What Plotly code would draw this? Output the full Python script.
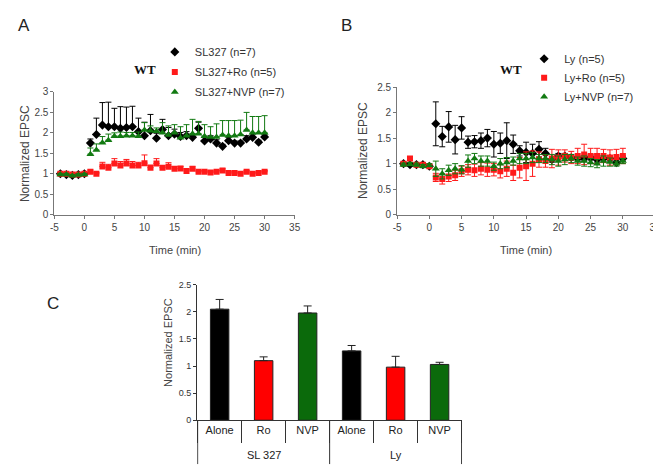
import plotly.graph_objects as go

# ---------------- data ----------------
time_min = list(range(-4, 31))
x_tick_vals = [-5, 0, 5, 10, 15, 20, 25, 30, 35]
x_tick_text = ["-5", "0", "5", "10", "15", "20", "25", "30", "35"]

# Panel A (SL327)
sl327 = [1.0, 0.98, 0.96, 0.98, 1.0, 1.75, 1.96, 2.19, 2.15, 2.15, 2.11, 2.13, 2.15, 2.03, 1.93, 2.05, 1.87, 2.08,
         1.93, 1.97, 1.91, 1.93, 1.89, 2.11, 1.8, 1.85, 1.75, 1.67, 1.81, 1.75, 1.75, 1.85, 1.89, 1.77, 1.9]
sl327_err = [0.03] * 5 + [0.1, 0.4, 0.55, 0.6, 0.45, 0.53, 0.5, 0.5, 0.33, 0.33, 0.4, 0.12, 0.25, 0.2, 0.12, 0.1, 0.1,
                          0.08, 0.15, 0.1, 0.08, 0.08, 0.05, 0.08, 0.05, 0.05, 0.08, 0.08, 0.05, 0.05]
sl327_ro = [1.0, 1.0, 0.98, 0.98, 1.0, 1.05, 1.0, 1.18, 1.15, 1.25, 1.2, 1.25, 1.2, 1.2, 1.26, 1.15, 1.25, 1.15,
            1.17, 1.12, 1.13, 1.07, 1.12, 1.05, 1.05, 1.03, 1.05, 1.08, 1.02, 1.02, 1.0, 1.05, 1.0, 1.02, 1.05]
sl327_ro_err = [0.03] * 5 + [0.04, 0.03, 0.1, 0.08, 0.12, 0.1, 0.1, 0.1, 0.08, 0.2, 0.06, 0.12, 0.05, 0.1, 0.05, 0.05,
                             0.03, 0.05, 0.03, 0.03, 0.03, 0.03, 0.04, 0.03, 0.03, 0.03, 0.03, 0.03, 0.03, 0.03]
sl327_nvp = [0.98, 0.98, 0.95, 0.97, 0.98, 1.48, 1.58, 1.76, 1.82, 1.92, 1.92, 1.93, 1.93, 1.92, 2.07, 2.05, 2.04, 2.0,
             1.95, 2.0, 1.88, 1.93, 1.98, 1.98, 1.92, 1.9, 1.9, 1.95, 1.93, 1.93, 1.96, 2.07, 2.0, 2.0, 2.0]
sl327_nvp_err = [0.03] * 5 + [0.15, 0.15, 0.15, 0.15, 0.08, 0.1, 0.08, 0.08, 0.1, 0.18, 0.12, 0.08, 0.25, 0.22, 0.2,
                              0.27, 0.27, 0.35, 0.3, 0.28, 0.25, 0.32, 0.35, 0.37, 0.37, 0.35, 0.43, 0.4, 0.4, 0.42]

# Panel B (Ly)
ly = [1.0, 0.98, 0.98, 0.98, 0.95, 1.78, 1.53, 1.72, 1.47, 1.7, 1.42, 1.43, 1.45, 1.5, 1.38, 1.4, 1.45, 1.38, 1.25,
      1.22, 1.2, 1.28, 1.2, 1.08, 1.15, 1.15, 1.12, 1.1, 1.1, 1.12, 1.08, 1.1, 1.1, 1.02, 1.1]
ly_err = [0.03] * 5 + [0.43, 0.2, 0.3, 0.28, 0.22, 0.12, 0.12, 0.15, 0.17, 0.25, 0.2, 0.35, 0.18, 0.1, 0.2, 0.18, 0.15,
                       0.1, 0.05, 0.05, 0.05, 0.05, 0.05, 0.05, 0.05, 0.05, 0.05, 0.05, 0.03, 0.05]
ly_ro = [1.0, 1.1, 0.98, 0.98, 0.95, 0.73, 0.7, 0.75, 0.77, 0.85, 0.88, 0.87, 0.9, 0.88, 0.88, 0.85, 0.9, 0.82, 0.92,
         0.95, 1.0, 1.08, 1.05, 1.1, 1.12, 1.15, 1.12, 1.15, 1.18, 1.15, 1.15, 1.15, 1.12, 1.13, 1.15]
ly_ro_err = [0.03, 0.04, 0.03, 0.03, 0.03, 0.08, 0.1, 0.1, 0.1, 0.1, 0.1, 0.12, 0.12, 0.13, 0.12, 0.13, 0.15, 0.15,
             0.2, 0.28, 0.25, 0.15, 0.12, 0.18, 0.15, 0.12, 0.12, 0.15, 0.2, 0.15, 0.15, 0.13, 0.15, 0.15, 0.15]
ly_nvp = [0.98, 0.99, 0.98, 0.95, 0.97, 0.9, 0.8, 0.87, 0.9, 0.88, 1.05, 1.1, 1.05, 1.05, 0.95, 1.0, 1.02, 1.05, 1.1,
          1.1, 1.12, 1.1, 1.1, 1.08, 1.05, 1.08, 1.1, 1.05, 1.05, 1.02, 1.0, 1.05, 1.03, 1.0, 1.05]
ly_nvp_err = [0.03] * 5 + [0.15, 0.1, 0.1, 0.1, 0.08, 0.12, 0.1, 0.1, 0.1, 0.08, 0.1, 0.1, 0.08, 0.1, 0.1, 0.1, 0.08,
                           0.08, 0.1, 0.1, 0.1, 0.08, 0.08, 0.1, 0.08, 0.08, 0.1, 0.08, 0.05, 0.05]

# Panel C
c_group_names = ["SL 327", "Ly"]
c_groups = ["SL 327", "SL 327", "SL 327", "Ly", "Ly", "Ly"]
c_conditions = ["Alone", "Ro", "NVP", "Alone", "Ro", "NVP"]
c_values = [2.05, 1.1, 1.98, 1.28, 0.98, 1.03]
c_errors = [0.18, 0.07, 0.13, 0.1, 0.2, 0.04]
c_colors = ["#000000", "#ff0000", "#0b6a0b", "#000000", "#ff0000", "#0b6a0b"]
c_keys = [g + " " + c for g, c in zip(c_groups, c_conditions)]

BLACK, RED, GREEN = "#000000", "#ff1a1a", "#127a12"
W, H = 661, 465
FONT = "Liberation Sans, Arial, sans-serif"
TICKC = "#444444"
AXC = "#777777"

fig = go.Figure()


def add_series(x, y, err, name, color, symbol, size, xa, ya, legend, symmetric):
    if symmetric:
        ey = dict(type="data", array=err, symmetric=True, color=color, thickness=1, width=3)
    else:
        ey = dict(type="data", array=err, arrayminus=[0] * len(err), symmetric=False,
                  color=color, thickness=1, width=3)
    fig.add_trace(go.Scatter(x=x, y=y, mode="markers", name=name, error_y=ey, legendgroup=name,
                             marker=dict(color=color, symbol=symbol, size=size, line=dict(width=0)),
                             xaxis=xa, yaxis=ya, legend=legend))


add_series(time_min, sl327, sl327_err, "SL327 (n=7)", BLACK, "diamond", 7, "x", "y", "legend", False)
add_series(time_min, sl327_ro, sl327_ro_err, "SL327+Ro (n=5)", RED, "square", 6, "x", "y", "legend", False)
add_series(time_min, sl327_nvp, sl327_nvp_err, "SL327+NVP (n=7)", GREEN, "triangle-up", 7, "x", "y", "legend", False)

add_series(time_min, ly, ly_err, "Ly (n=5)", BLACK, "diamond", 7, "x2", "y2", "legend2", True)
add_series(time_min, ly_ro, ly_ro_err, "Ly+Ro (n=5)", RED, "square", 6, "x2", "y2", "legend2", True)
add_series(time_min, ly_nvp, ly_nvp_err, "Ly+NVP (n=7)", GREEN, "triangle-up", 7, "x2", "y2", "legend2", True)

fig.add_trace(go.Bar(x=c_keys, y=c_values, width=0.42,
                     marker=dict(color=c_colors, line=dict(color="#222222", width=1)),
                     error_y=dict(type="data", array=c_errors, arrayminus=[0] * 6, symmetric=False,
                                  color="#222222", thickness=1, width=4),
                     xaxis="x3", yaxis="y3", showlegend=False))


def px_x(p):
    return p / W


def px_y(p):
    return 1 - p / H


tickfont = dict(family=FONT, size=10, color=TICKC)
common_x = dict(showgrid=False, zeroline=False, showline=True, linecolor=AXC, linewidth=1,
                ticks="outside", ticklen=3, tickcolor=AXC, tickfont=tickfont,
                tickmode="array", tickvals=x_tick_vals, ticktext=x_tick_text)
common_y = dict(showgrid=False, zeroline=False, showline=True, linecolor=AXC, linewidth=1,
                ticks="outside", ticklen=3, tickcolor=AXC, tickfont=tickfont, dtick=0.5)

C_AXIS_Y = 417
fig.update_layout(
    width=W, height=H, margin=dict(l=0, r=0, t=0, b=0),
    paper_bgcolor="white", plot_bgcolor="white",
    font=dict(family=FONT, color="#333333"),
    xaxis=dict(domain=[px_x(43), px_x(287)], range=[-5, 35], anchor="y", **common_x),
    yaxis=dict(domain=[px_y(206), px_y(80)], range=[0, 3], anchor="x", **common_y),
    xaxis2=dict(domain=[px_x(391), px_x(653)], range=[-5, 35], anchor="y2", **common_x),
    yaxis2=dict(domain=[px_y(206), px_y(75)], range=[0, 2.5], anchor="x2", **common_y),
    xaxis3=dict(domain=[px_x(188), px_x(457)], anchor="y3", type="category", showgrid=False,
                showline=True, linecolor="#333333", linewidth=1, ticks="outside", tickson="boundaries",
                ticklen=22, tickcolor="#333333", tickfont=dict(family=FONT, size=11, color="#222222"),
                tickmode="array", tickvals=c_keys, ticktext=c_conditions, ticklabelstandoff=0),
    yaxis3=dict(domain=[px_y(C_AXIS_Y), px_y(278)], range=[0, 2.5], anchor="x3", showgrid=False, zeroline=False,
                showline=True, linecolor="#333333", linewidth=1, ticks="outside", ticklen=3,
                tickcolor="#333333", tickfont=dict(family=FONT, size=9, color="#333333"), dtick=0.5),
    legend=dict(x=px_x(145), y=px_y(24), xanchor="left", yanchor="top", bgcolor="rgba(0,0,0,0)",
                font=dict(family=FONT, size=11, color="#333333"), itemwidth=30, tracegroupgap=1,
                borderwidth=0),
    legend2=dict(x=px_x(520), y=px_y(31), xanchor="left", yanchor="top", bgcolor="rgba(0,0,0,0)",
                 font=dict(family=FONT, size=11, color="#333333"), itemwidth=30, tracegroupgap=0,
                 borderwidth=0),
    bargap=0.5,
)

# group dividers and group labels for panel C (drawn on the category axis)
n_per_group = len(c_keys) // len(c_group_names)
for gi in range(len(c_group_names) + 1):
    xb = gi * n_per_group - 0.5
    fig.add_shape(type="line", xref="x3", yref="paper", x0=xb, x1=xb,
                  y0=px_y(C_AXIS_Y), y1=px_y(462), line=dict(color="#333333", width=1))
for gi, g in enumerate(c_group_names):
    fig.add_annotation(text=g, xref="x3", yref="paper", x=c_keys[gi * n_per_group + n_per_group // 2 - 1 + 1],
                       y=px_y(453), showarrow=False, xanchor="center", yanchor="middle",
                       font=dict(size=11, family=FONT, color="#222222"))

annots = [
    dict(text="A", x=12, y=12, size=17, family=FONT, color="#222222"),
    dict(text="B", x=340, y=12, size=17, family=FONT, color="#222222"),
    dict(text="C", x=42, y=297, size=17, family=FONT, color="#222222"),
    dict(text="<b>WT</b>", x=135, y=57, size=13, family="Liberation Serif, Times New Roman, serif", color="#111111"),
    dict(text="<b>WT</b>", x=507, y=57, size=13, family="Liberation Serif, Times New Roman, serif", color="#111111"),
    dict(text="Time (min)", x=166, y=242, size=11, family=FONT, color="#444444"),
    dict(text="Time (min)", x=522, y=242, size=11, family=FONT, color="#444444"),
]
for a in annots:
    fig.add_annotation(text=a["text"], x=px_x(a["x"]), y=px_y(a["y"]), xref="paper", yref="paper",
                       showarrow=False, xanchor="center", yanchor="middle",
                       font=dict(size=a["size"], family=a["family"], color=a["color"]))

for xc, yc, sz in [(14, 143, 12), (357, 140, 12), (159, 337, 11)]:
    fig.add_annotation(text="Normalized EPSC", x=px_x(xc), y=px_y(yc), xref="paper", yref="paper",
                       showarrow=False, textangle=-90, xanchor="center", yanchor="middle",
                       font=dict(size=sz, family=FONT, color="#444444"))

fig.write_html("out.html")
